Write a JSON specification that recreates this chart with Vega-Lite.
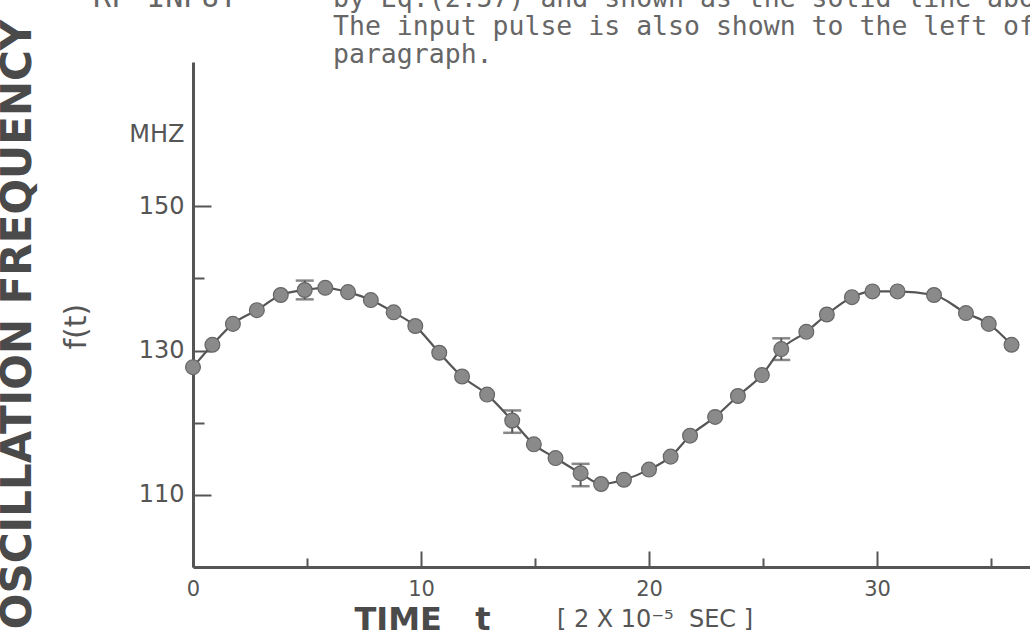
{
  "$schema": "https://vega.github.io/schema/vega-lite/v6.json",
  "width": 837,
  "height": 505,
  "autosize": {"type": "none"},
  "padding": {"left": 193, "top": 62, "right": 0, "bottom": 73},
  "background": "#ffffff",
  "config": {"view": {"stroke": null}, "axis": {"grid": false}},
  "datasets": {
    "pts": [
      {"t": 0, "f": 127.7}, {"t": 0.85, "f": 130.8}, {"t": 1.75, "f": 133.7}, {"t": 2.8, "f": 135.6},
      {"t": 3.85, "f": 137.7}, {"t": 4.9, "f": 138.4}, {"t": 5.8, "f": 138.7}, {"t": 6.8, "f": 138.1},
      {"t": 7.8, "f": 137.0}, {"t": 8.8, "f": 135.3}, {"t": 9.75, "f": 133.4}, {"t": 10.8, "f": 129.7},
      {"t": 11.8, "f": 126.4}, {"t": 12.9, "f": 123.9}, {"t": 14.0, "f": 120.3}, {"t": 14.95, "f": 117.0},
      {"t": 15.9, "f": 115.1}, {"t": 17.0, "f": 113.0}, {"t": 17.9, "f": 111.5}, {"t": 18.9, "f": 112.1},
      {"t": 20.0, "f": 113.5}, {"t": 20.95, "f": 115.3}, {"t": 21.8, "f": 118.2}, {"t": 22.9, "f": 120.8},
      {"t": 23.9, "f": 123.7}, {"t": 24.95, "f": 126.6}, {"t": 25.8, "f": 130.2}, {"t": 26.9, "f": 132.6},
      {"t": 27.8, "f": 135.0}, {"t": 28.9, "f": 137.4}, {"t": 29.8, "f": 138.2}, {"t": 30.9, "f": 138.2},
      {"t": 32.5, "f": 137.7}, {"t": 33.9, "f": 135.2}, {"t": 34.9, "f": 133.7}, {"t": 35.9, "f": 130.8}
    ],
    "err": [
      {"t": 4.9, "lo": 137.1, "hi": 139.7},
      {"t": 14.0, "lo": 118.6, "hi": 121.7},
      {"t": 17.0, "lo": 111.2, "hi": 114.3},
      {"t": 25.8, "lo": 128.7, "hi": 131.7}
    ]
  },
  "layer": [
    {
      "data": {"name": "pts"},
      "mark": {"type": "line", "interpolate": "monotone", "color": "#555555", "strokeWidth": 2.2},
      "encoding": {
        "x": {
          "field": "t", "type": "quantitative", "title": "TIME\u00a0\u00a0\u00a0t",
          "scale": {"domain": [0, 36.71], "nice": false, "zero": false},
          "axis": {
            "values": [0, 5, 10, 15, 20, 25, 30, 35],
            "labelExpr": "datum.value % 10 === 0 ? datum.label : ''",
            "labelFont": "DejaVu Sans", "labelFontSize": 21, "labelColor": "#555555",
            "labelPadding": 27, "labelFlush": false, "labelOverlap": false,
            "domainColor": "#555555", "domainWidth": 3,
            "tickColor": "#555555", "tickWidth": 2,
            "tickSize": {"condition": {"test": "datum.value % 10 === 0", "value": -16}, "value": -9},
            "titleFont": "DejaVu Sans", "titleFontWeight": "bold", "titleFontSize": 32, "titleColor": "#4a4a4a",
            "titleX": 161, "titleY": 62, "titleAlign": "left", "titleBaseline": "alphabetic", "titleAngle": 0
          }
        },
        "y": {
          "field": "f", "type": "quantitative", "title": "OSCILLATION FREQUENCY",
          "scale": {"domain": [100, 170], "nice": false, "zero": false},
          "axis": {
            "values": [110, 120, 130, 140, 150, 160],
            "labelExpr": "datum.value === 160 ? 'MHZ' : (datum.value % 20 === 10 ? datum.label : '')",
            "labelFont": "DejaVu Sans", "labelFontSize": 24, "labelColor": "#555555",
            "labelPadding": 27, "labelOverlap": false,
            "domainColor": "#555555", "domainWidth": 3,
            "tickColor": "#555555", "tickWidth": 2,
            "tickSize": {"condition": {"test": "datum.value % 20 === 10 || datum.value === 160", "value": -18}, "value": -11},
            "tickOpacity": {"condition": {"test": "datum.value === 160", "value": 0}, "value": 1},
            "titleFont": "DejaVu Sans", "titleFontWeight": "bold", "titleFontSize": 42, "titleColor": "#4a4a4a",
            "titleX": -176, "titleY": 262, "titleAngle": -90, "titleAlign": "center", "titleBaseline": "middle"
          }
        }
      }
    },
    {
      "data": {"name": "err"},
      "mark": {"type": "errorbar", "ticks": {"size": 18, "color": "#555555", "thickness": 2.5}, "rule": {"color": "#555555", "strokeWidth": 2}},
      "encoding": {
        "x": {"field": "t", "type": "quantitative", "title": "TIME\u00a0\u00a0\u00a0t"},
        "y": {"field": "lo", "type": "quantitative", "title": "OSCILLATION FREQUENCY"},
        "y2": {"field": "hi"}
      }
    },
    {
      "data": {"name": "pts"},
      "mark": {"type": "circle", "size": 220, "fill": "#8a8a8a", "stroke": "#666666", "strokeWidth": 1.2, "opacity": 1},
      "encoding": {
        "x": {"field": "t", "type": "quantitative", "title": "TIME\u00a0\u00a0\u00a0t"},
        "y": {"field": "f", "type": "quantitative", "title": "OSCILLATION FREQUENCY"}
      }
    },
    {
      "data": {"values": [{}]},
      "mark": {"type": "text", "font": "DejaVu Sans Mono", "fontSize": 26.5, "color": "#666666", "align": "left", "baseline": "alphabetic", "lineHeight": 28,
        "text": ["by Eq.(2.57) and shown as the solid line above.", "The input pulse is also shown to the left of", "paragraph."]},
      "encoding": {"x": {"datum": 6.14}, "y": {"datum": 177.6}}
    },
    {
      "data": {"values": [{}]},
      "mark": {"type": "text", "font": "DejaVu Sans Mono", "fontSize": 30, "color": "#666666", "align": "left", "baseline": "alphabetic", "text": "RF INPUT"},
      "encoding": {"x": {"datum": -4.39}, "y": {"datum": 177.6}}
    },
    {
      "data": {"values": [{}]},
      "mark": {"type": "text", "font": "DejaVu Sans", "fontSize": 30, "color": "#555555", "align": "center", "baseline": "middle", "angle": 270, "text": "f(t)"},
      "encoding": {"x": {"datum": -5.09}, "y": {"datum": 133.3}}
    },
    {
      "data": {"values": [{}]},
      "mark": {"type": "text", "font": "DejaVu Sans", "fontSize": 24, "color": "#555555", "align": "left", "baseline": "alphabetic", "text": "[\u00a02\u00a0X\u00a010⁻⁵\u00a0\u00a0SEC\u00a0]"},
      "encoding": {"x": {"datum": 15.96}, "y": {"datum": 91.7}}
    }
  ]
}
